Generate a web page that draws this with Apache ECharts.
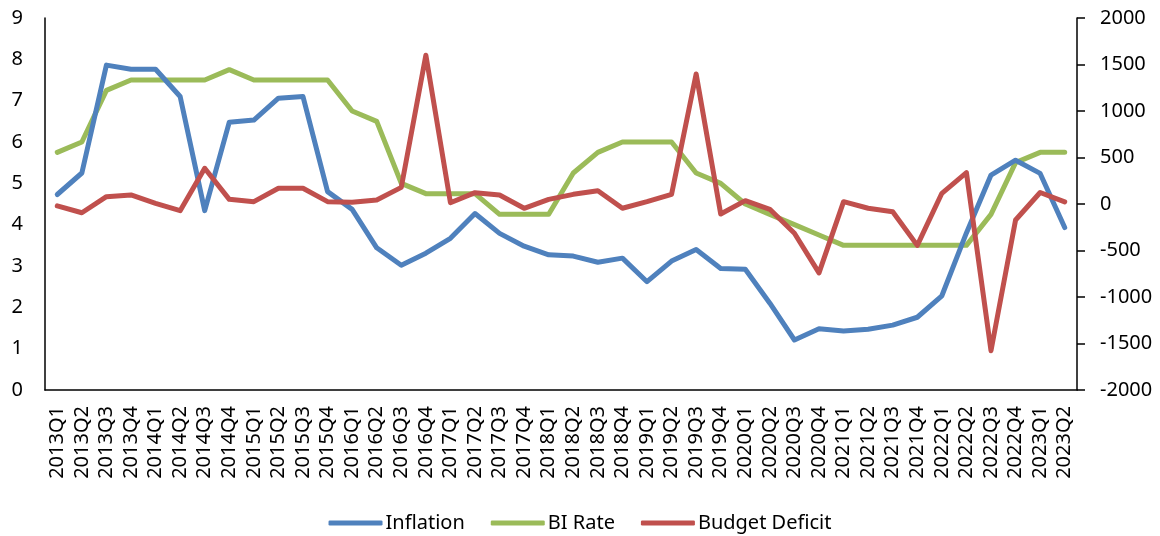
<!DOCTYPE html>
<html>
<head>
<meta charset="utf-8">
<script src="https://cdn.jsdelivr.net/npm/echarts@6/dist/echarts.min.js"></script>
<style>
html,body{margin:0;padding:0;background:#fff;}
#chart{width:1160px;height:536px;}
</style>
</head>
<body>
<div id="chart"></div>
<script>
const categories = ["2013Q1","2013Q2","2013Q3","2013Q4","2014Q1","2014Q2","2014Q3","2014Q4","2015Q1","2015Q2","2015Q3","2015Q4","2016Q1","2016Q2","2016Q3","2016Q4","2017Q1","2017Q2","2017Q3","2017Q4","2018Q1","2018Q2","2018Q3","2018Q4","2019Q1","2019Q2","2019Q3","2019Q4","2020Q1","2020Q2","2020Q3","2020Q4","2021Q1","2021Q2","2021Q3","2021Q4","2022Q1","2022Q2","2022Q3","2022Q4","2023Q1","2023Q2"];
const inflation = [4.73,5.25,7.86,7.76,7.76,7.10,4.34,6.48,6.53,7.06,7.10,4.80,4.37,3.44,3.02,3.31,3.67,4.27,3.79,3.48,3.27,3.24,3.09,3.19,2.62,3.12,3.40,2.94,2.92,2.10,1.21,1.48,1.43,1.47,1.57,1.76,2.28,3.80,5.20,5.56,5.24,3.93];
const biRate = [5.75,6.00,7.25,7.50,7.50,7.50,7.50,7.75,7.50,7.50,7.50,7.50,6.75,6.50,5.00,4.75,4.75,4.75,4.25,4.25,4.25,5.25,5.75,6.00,6.00,6.00,5.25,5.00,4.50,4.25,4.00,3.75,3.50,3.50,3.50,3.50,3.50,3.50,4.25,5.50,5.75,5.75];
const budgetDeficit = [-20,-94,79,97,7,-72,384,50,25,169,169,25,18,43,179,1600,14,122,97,-46,50,104,143,-46,25,104,1398,-108,36,-57,-315,-740,25,-46,-83,-445,115,337,-1577,-172,124,22];
const leftTicks = {min:0, max:9, interval:1};
const rightTicks = {min:-2000, max:2000, interval:500};

const FONT = "'Noto Sans', 'Open Sans', sans-serif";
const chart = echarts.init(document.getElementById('chart'), null, {renderer:'canvas'});
const lineStyle = (c) => ({color:c, width:5, cap:'round', join:'round'});
chart.setOption({
  animation:false,
  backgroundColor:'#fff',
  textStyle:{fontFamily:FONT, color:'#000'},
  grid:{left:45, right:83, top:18, bottom:146, containLabel:false},
  legend:{
    top:508, left:'center',
    icon:'roundRect', itemWidth:54, itemHeight:5, itemGap:26,
    textStyle:{fontFamily:FONT, fontSize:20, color:'#000', padding:[0,0,0,-2]},
    data:['Inflation','BI Rate','Budget Deficit']
  },
  xAxis:{
    type:'category', data:categories, boundaryGap:true,
    axisLine:{onZero:false, lineStyle:{color:'#000', width:1.5}},
    axisTick:{show:false},
    axisLabel:{interval:0, rotate:90, margin:16, fontSize:20, fontFamily:FONT, color:'#000'},
    splitLine:{show:false}
  },
  yAxis:[
    {type:'value', position:'left', min:leftTicks.min, max:leftTicks.max, interval:leftTicks.interval,
     axisLine:{show:true, lineStyle:{color:'#000', width:1.5}},
     axisTick:{show:false},
     axisLabel:{margin:22, fontSize:20, fontFamily:FONT, color:'#000', formatter:(v)=>String(v)},
     splitLine:{show:false}},
    {type:'value', position:'right', min:rightTicks.min, max:rightTicks.max, interval:rightTicks.interval,
     axisLine:{show:true, lineStyle:{color:'#000', width:1.5}},
     axisTick:{show:true, length:8, lineStyle:{color:'#000', width:1.5}},
     axisLabel:{margin:23, fontSize:20, fontFamily:FONT, color:'#000', formatter:(v)=>String(v)},
     splitLine:{show:false}}
  ],
  series:[
    {name:'Inflation', type:'line', yAxisIndex:0, data:inflation, symbol:'none', itemStyle:{color:'#4F81BD'}, lineStyle:lineStyle('#4F81BD'), z:3},
    {name:'BI Rate', type:'line', yAxisIndex:0, data:biRate, symbol:'none', itemStyle:{color:'#9BBB59'}, lineStyle:lineStyle('#9BBB59'), z:2},
    {name:'Budget Deficit', type:'line', yAxisIndex:1, data:budgetDeficit, symbol:'none', itemStyle:{color:'#C0504D'}, lineStyle:lineStyle('#C0504D'), z:4}
  ]
});
</script>
</body>
</html>
